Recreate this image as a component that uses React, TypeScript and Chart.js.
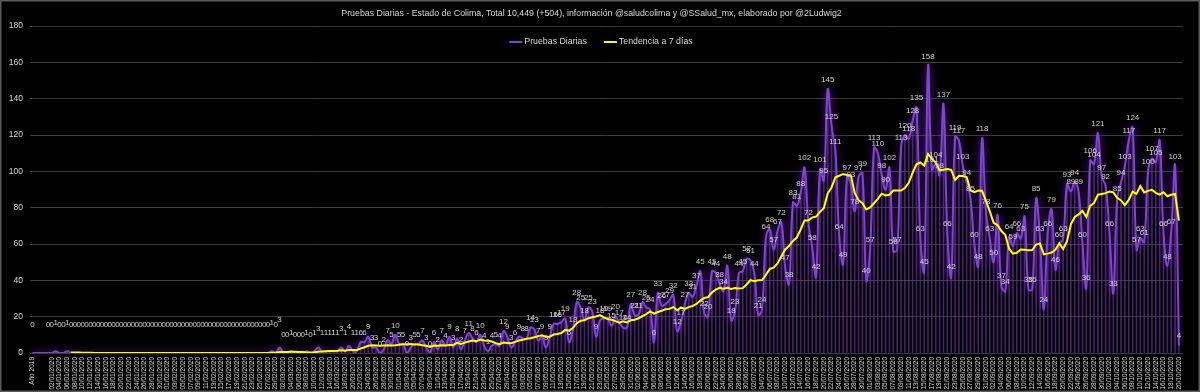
import React, { useEffect, useRef } from "react";
import { Chart, registerables } from "chart.js";

Chart.register(...registerables);

// ---------------- data ----------------
const TITULO =
  "Pruebas Diarias - Estado de Colima, Total 10,449 (+504), información @saludcolima y @SSalud_mx, elaborado por @2Ludwig2";
const SERIE_DIARIA = "Pruebas Diarias";
const SERIE_TENDENCIA = "Tendencia a 7 días";

const ETIQUETA_2019 = "Año 2019";
const VALOR_2019 = 0;

// daily tests, 01/01/2020 .. 20/10/2020
const enero = [0, 0, 1, 0, 0, 1, 0, 0, 0, 0, 0, 0, 0, 0, 0, 0, 0, 0, 0, 0, 0, 0, 0, 0, 0, 0, 0, 0, 0, 0, 0];
const febrero = [0, 0, 0, 0, 0, 0, 0, 0, 0, 0, 0, 0, 0, 0, 0, 0, 0, 0, 0, 0, 0, 0, 0, 0, 0, 0, 0, 1, 0];
const marzo = [3, 0, 0, 1, 0, 0, 0, 1, 0, 1, 3, 1, 1, 1, 1, 1, 3, 1, 4, 1, 1, 6, 6, 9, 3, 3, 0, 2, 7, 5, 10];
const abril = [5, 5, 0, 3, 5, 5, 7, 3, 0, 6, 2, 7, 4, 9, 3, 8, 2, 7, 11, 8, 6, 10, 4, 1, 4, 5, 4, 12, 9, 3];
const mayo = [6, 9, 8, 8, 14, 13, 7, 9, 3, 9, 16, 16, 17, 19, 6, 13, 28, 25, 18, 25, 23, 9, 18, 19, 19, 15, 20, 17, 14, 14, 27];
const junio = [21, 21, 28, 25, 24, 6, 33, 26, 27, 29, 32, 12, 17, 27, 33, 31, 37, 45, 22, 20, 45, 44, 38, 34, 48, 18, 23, 44, 45, 52];
const julio = [51, 44, 21, 24, 64, 68, 57, 67, 72, 47, 38, 83, 81, 88, 102, 72, 58, 42, 101, 95, 145, 125, 111, 64, 49, 97, 93, 78, 97, 99, 40];
const agosto = [57, 113, 110, 98, 90, 102, 56, 57, 113, 120, 118, 128, 135, 63, 45, 158, 101, 104, 98, 137, 66, 42, 119, 117, 103, 94, 85, 60, 48, 118, 78];
const septiembre = [63, 50, 76, 37, 34, 64, 59, 66, 63, 75, 35, 35, 85, 63, 24, 66, 79, 46, 60, 63, 93, 89, 94, 89, 60, 36, 106, 104, 121, 97];
const octubre = [92, 66, 33, 85, 94, 103, 117, 124, 57, 63, 61, 100, 107, 105, 117, 66, 48, 67, 103, 4];

const diarias = [...enero, ...febrero, ...marzo, ...abril, ...mayo, ...junio, ...julio, ...agosto, ...septiembre, ...octubre];

// category labels: "Año 2019" then every day of 2020 shown in the series
const fechas: string[] = [];
for (let i = 0; i < diarias.length; i++) {
  const d = new Date(Date.UTC(2020, 0, 1 + i));
  fechas.push(
    `${String(d.getUTCDate()).padStart(2, "0")}/${String(d.getUTCMonth() + 1).padStart(2, "0")}/${d.getUTCFullYear()}`
  );
}
const categorias = [ETIQUETA_2019, ...fechas];

// 7-day trailing moving average trendline of the daily series
const PERIODO = 7;

// ---------------- layout / style ----------------
const W = 1200;
const H = 392;
const FONT = '"Liberation Sans", Arial, sans-serif';
const TXT = "#d9d9d9";
const X_2019 = -3; // slot used by the "Año 2019" category (gap before 2020)
const X_MIN = -3.65;
const X_MAX = 295.05;

export default function App() {
  const ref = useRef<HTMLCanvasElement | null>(null);

  useEffect(() => {
    document.body.style.margin = "0";
    document.body.style.background = "#000";
    const canvas = ref.current;
    if (!canvas) return;

    const puntos = [{ x: X_2019, y: VALOR_2019 }, ...diarias.map((v, i) => ({ x: i + 1, y: v }))];
    const tendencia: { x: number; y: number }[] = [];
    for (let i = PERIODO - 1; i < diarias.length; i++) {
      let s = 0;
      for (let j = i - PERIODO + 1; j <= i; j++) s += diarias[j];
      tendencia.push({ x: i + 1, y: s / PERIODO });
    }
    const marcas = [X_2019];
    for (let k = 2; k <= diarias.length; k += 2) marcas.push(k);
    const etiqueta = (v: number) => (v === X_2019 ? categorias[0] : categorias[v] ?? "");

    const fondo = {
      id: "fondo",
      beforeDraw(chart: any) {
        const c = chart.ctx;
        c.save();
        c.fillStyle = "#000";
        c.fillRect(0, 0, chart.width, chart.height);
        c.restore();
      },
      afterDraw(chart: any) {
        const c = chart.ctx;
        c.save();
        c.strokeStyle = "#5a5a5a";
        c.lineWidth = 1.5;
        c.strokeRect(0.75, 0.75, chart.width - 1.5, chart.height - 1.5);
        c.restore();
      },
    };

    const brillo = {
      id: "brillo",
      beforeDatasetDraw(chart: any, args: any) {
        if (args.index !== 1) return;
        const c = chart.ctx;
        c.save();
        c.shadowColor = "rgba(112, 40, 190, 1)";
        c.shadowBlur = 8;
      },
      afterDatasetDraw(chart: any, args: any) {
        if (args.index !== 1) return;
        chart.ctx.restore();
      },
    };

    const etiquetas = {
      id: "etiquetas",
      afterDatasetsDraw(chart: any) {
        const meta = chart.getDatasetMeta(1);
        const data = chart.data.datasets[1].data as { x: number; y: number }[];
        const c = chart.ctx;
        c.save();
        c.font = `8px ${FONT}`;
        c.fillStyle = "#d0d0d0";
        c.textAlign = "center";
        c.textBaseline = "middle";
        meta.data.forEach((el: any, i: number) => {
          const k = data[i].x;
          const off = k <= 61 ? 28 : k <= 81 ? 18.5 : 9.5;
          c.fillText(String(data[i].y), el.x, el.y - off);
        });
        c.restore();
      },
    };

    const leyenda = {
      id: "leyenda",
      afterDraw(chart: any) {
        const c = chart.ctx;
        const items = chart.data.datasets.filter((d: any) => d.type === "line");
        c.save();
        c.font = `8.8px ${FONT}`;
        c.textBaseline = "middle";
        c.textAlign = "left";
        const lw = 13, gap = 2, sep = 17;
        const widths = items.map((it: any) => lw + gap + c.measureText(it.label).width);
        const total = widths.reduce((a: number, b: number) => a + b, 0) + sep * (items.length - 1);
        let x = 601 - total / 2;
        const y = 42;
        items.forEach((it: any, i: number) => {
          c.strokeStyle = it.borderColor;
          c.lineWidth = 2;
          c.beginPath();
          c.moveTo(x, y);
          c.lineTo(x + lw, y);
          c.stroke();
          c.fillStyle = TXT;
          c.fillText(it.label, x + lw + gap, y);
          x += widths[i] + sep;
        });
        c.restore();
      },
    };

    const chart = new Chart(canvas, {
      type: "line",
      data: {
        datasets: [
          {
            type: "bar",
            label: "lineas",
            data: puntos,
            backgroundColor: "rgba(112, 62, 170, 0.6)",
            barThickness: 1,
            order: 3,
          } as any,
          {
            type: "line",
            label: SERIE_DIARIA,
            data: puntos,
            borderColor: "#7e46cc",
            borderWidth: 2,
            tension: 0.4,
            pointRadius: 0,
            fill: false,
            order: 2,
          },
          {
            type: "line",
            label: SERIE_TENDENCIA,
            data: tendencia,
            borderColor: "#ffff00",
            borderWidth: 2,
            tension: 0,
            pointRadius: 0,
            fill: false,
            order: 1,
          },
        ],
      },
      options: {
        animation: false,
        responsive: false,
        devicePixelRatio: 1,
        layout: { padding: { top: 0, right: 17, bottom: 0, left: 0 } },
        plugins: {
          legend: { display: false },
          tooltip: { enabled: false },
          title: {
            display: true,
            text: TITULO,
            color: TXT,
            font: { size: 8.8, weight: "normal", family: FONT },
            padding: { top: 8, bottom: 7.5 },
          },
        },
        scales: {
          x: {
            type: "linear",
            min: X_MIN,
            max: X_MAX,
            offset: false,
            grid: { display: false, drawTicks: false },
            border: { display: false },
            afterBuildTicks: (axis: any) => {
              axis.ticks = marcas.map((value) => ({ value }));
            },
            afterFit: (s: any) => {
              s.height = 39;
            },
            ticks: {
              autoSkip: false,
              maxRotation: 90,
              minRotation: 90,
              padding: 4,
              color: TXT,
              font: { size: 6.5, family: FONT },
              callback: (v: any) => etiqueta(Number(v)),
            },
          },
          y: {
            min: 0,
            max: 180,
            grid: { color: "#3c3c3c", lineWidth: 1, drawTicks: false },
            border: { display: false },
            afterFit: (s: any) => {
              s.width = 30;
            },
            ticks: {
              stepSize: 20,
              padding: 7,
              color: TXT,
              font: { size: 8.5, family: FONT },
            },
          },
        },
      },
      plugins: [fondo, brillo, etiquetas, leyenda],
    } as any);

    return () => chart.destroy();
  }, []);

  return (
    <div style={{ width: W, height: H, background: "#000" }}>
      <canvas ref={ref} width={W} height={H} style={{ display: "block" }} />
    </div>
  );
}
